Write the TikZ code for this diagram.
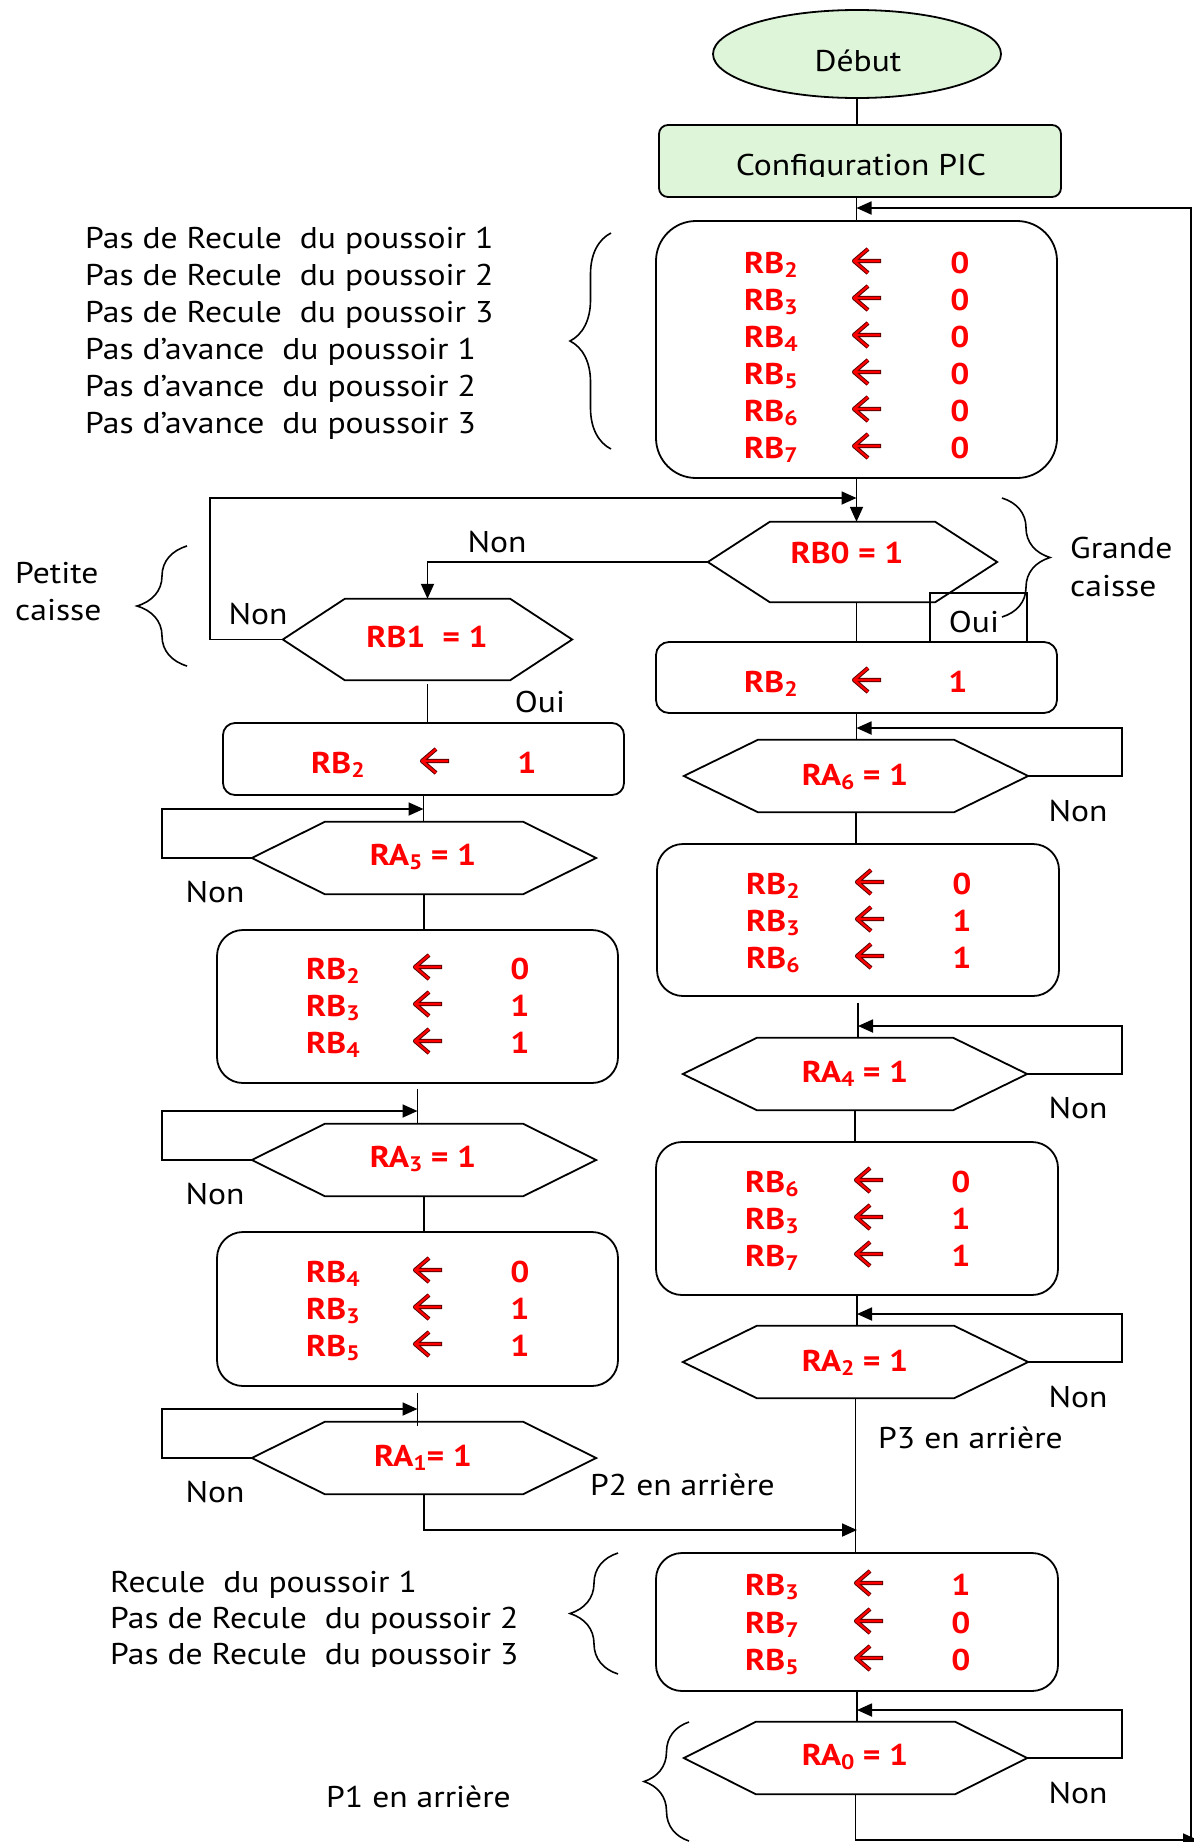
\documentclass[tikz,border=0pt]{standalone}
\usepackage{fontspec}
\setmainfont{PT Sans}[FakeStretch=1.12]
\usetikzlibrary{arrows.meta,decorations.pathreplacing,shapes.geometric}
\definecolor{lgreen}{RGB}{223,245,218}
\definecolor{darkred}{RGB}{90,0,0}
\newcommand\subs[1]{\raisebox{-4pt}{\fontsize{21}{21}\selectfont #1}}
\newcommand\hexdraw[2]{\draw[shapeline] (#1.west) -- ([xshift=#2]#1.north west) -- ([xshift=-#2]#1.north east) -- (#1.east) -- ([xshift=-#2]#1.south east) -- ([xshift=#2]#1.south west) -- cycle;}
% name, xRB, xArrow, xVal, baseline, sub, val
\newcommand\asg[7]{%
  \node[val, anchor=base west] (#1a) at (#2,#5) {RB\subs{#6}};
  \pic at (#3,{#5-12}) {larr};
  \node[val, anchor=base] (#1b) at (#4,#5) {#7};}
\tikzset{
  txt/.style={font=\fontsize{30}{36}\selectfont, inner sep=0pt},
  val/.style={font=\bfseries\fontsize{30}{36}\selectfont, text=red, inner sep=0pt},
  shapeline/.style={line width=1.8pt},
  abox/.style={draw, line width=1.8pt, inner sep=0pt},
  hexa/.style={inner sep=0pt},
  conn/.style={line width=1.8pt},
  arr/.style={line width=1.8pt, -{Triangle[length=15pt,width=13pt]}},
  lbrace/.style={decorate, decoration={brace, amplitude=#1}, line width=1.6pt},
  larr/.pic={
    \draw[line width=4.2pt, darkred, line join=round] (14,-12) -- (0,0) -- (14,12) (0,0) -- (27,0);
    \draw[line width=2.2pt, red, line join=round] (14,-12) -- (0,0) -- (14,12) (0,0) -- (26,0);
  }
}
\begin{document}
\begin{tikzpicture}[x=1pt,y=-1pt]
\useasboundingbox (0,0) rectangle (1194,1842);

% ---------- top ----------
\node[draw, fill=lgreen, ellipse, line width=1.8pt, minimum width=288pt, minimum height=88pt, inner sep=0pt] (start) at (857,54) {};
\node[txt, anchor=base] (debut) at (858,71) {Début};
\node[abox, fill=lgreen, rounded corners=9pt, minimum width=402pt, minimum height=72pt] (config) at (860,161) {};
\begin{scope}
  \clip (660,130) rectangle (1060,176);
  \node[txt, anchor=base] (cfgt) at (861,175) {Configuration PIC};
\end{scope}

% ---------- right column shapes ----------
\node[abox, rounded corners=40pt, minimum width=401pt, minimum height=257pt] (b1) at (856.5,349.5) {};
\node[hexa, minimum width=289pt, minimum height=80pt] (rb0) at (852.5,562) {};
\hexdraw{rb0}{62pt}
\node[abox, rounded corners=13pt, minimum width=401pt, minimum height=71pt] (b2) at (856.5,677.5) {};
\node[hexa, minimum width=344pt, minimum height=72pt] (ra6) at (856,776) {};
\hexdraw{ra6}{74pt}
\node[abox, rounded corners=26pt, minimum width=402pt, minimum height=152pt] (b3) at (858,920) {};
\node[hexa, minimum width=344pt, minimum height=72pt] (ra4) at (855,1074) {};
\hexdraw{ra4}{74pt}
\node[abox, rounded corners=26pt, minimum width=402pt, minimum height=153pt] (b4) at (857,1218.5) {};
\node[hexa, minimum width=345pt, minimum height=72pt] (ra2) at (855.5,1362) {};
\hexdraw{ra2}{74pt}
\node[abox, rounded corners=26pt, minimum width=402pt, minimum height=138pt] (b5) at (857,1622) {};
\node[hexa, minimum width=343pt, minimum height=72pt] (ra0) at (855.5,1758) {};
\hexdraw{ra0}{72pt}

% ---------- left column shapes ----------
\node[hexa, minimum width=289pt, minimum height=81pt] (rb1) at (427.5,639.5) {};
\hexdraw{rb1}{62pt}
\node[abox, rounded corners=12pt, minimum width=401pt, minimum height=72pt] (l1) at (423.5,759) {};
\node[hexa, minimum width=344pt, minimum height=72pt] (ra5) at (424,858) {};
\hexdraw{ra5}{73pt}
\node[abox, rounded corners=26pt, minimum width=401pt, minimum height=153pt] (l2) at (417.5,1006.5) {};
\node[hexa, minimum width=344pt, minimum height=72pt] (ra3) at (424,1160) {};
\hexdraw{ra3}{73pt}
\node[abox, rounded corners=26pt, minimum width=401pt, minimum height=154pt] (l3) at (417.5,1309) {};
\node[hexa, minimum width=344pt, minimum height=72pt] (ra1) at (424,1458) {};
\hexdraw{ra1}{73pt}

% ---------- connectors ----------
\draw[conn] (start.south) -- (start.south |- config.north);
\draw[conn] (b1.north) -- (b1.north |- config.south);
\coordinate (fbtop) at (1191,208);
\coordinate (fbbot) at (1191,1840);
\coordinate (fbend) at (1198,1840);
\draw[arr] (ra0.south) |- (fbend);
\draw[arr] (fbbot) -- (fbtop) -- (b1.north |- fbtop);
\draw[arr] (b1.south) -- (b1.south |- rb0.north);
\coordinate (loopA) at (210,498);
\draw[arr] (rb1.west) -| (loopA) -- (b1.south |- loopA);
\draw[arr] (rb0.west) -| (rb1.north);
\draw[conn] (b2.north |- rb0.south) -- (b2.north);
\coordinate (ouiL) at (930,593);
\coordinate (ouiR) at (1027,593);
\draw[conn] (ouiL |- b2.north) -- (ouiL) -- (ouiR) -- (ouiR |- b2.north);
\draw[conn] (b2.south) -- (b2.south |- ra6.north);
\coordinate (lpA6) at (1122,728);
\draw[arr] (ra6.east) -| (lpA6) -- (b2.south |- lpA6);
\draw[conn] (ra6.south) -- (ra6.south |- b3.north);
\draw[conn] ([yshift=-6pt]b3.south) -- (b3.south |- ra4.north);
\coordinate (lpA4) at (1122,1026);
\draw[arr] (ra4.east) -| (lpA4) -- (b3.south |- lpA4);
\draw[conn] (ra4.south) -- (ra4.south |- b4.north);
\draw[conn] (b4.south) -- (b4.south |- ra2.north);
\coordinate (lpA2) at (1122,1314);
\draw[arr] (ra2.east) -| (lpA2) -- (b4.south |- lpA2);
\draw[conn] (ra2.south) -- (ra2.south |- b5.north);
\coordinate (p2c) at (423,1530);
\draw[arr] (ra1.south) |- (b5.north |- p2c);
\draw[conn] (b5.south) -- (b5.south |- ra0.north);
\coordinate (lpA0) at (1122,1710);
\draw[arr] (ra0.east) -| (lpA0) -- (b5.south |- lpA0);

\draw[conn] ([yshift=-4pt]rb1.south) -- (rb1.south |- l1.north);
\draw[conn] (l1.south) -- (l1.south |- ra5.north);
\coordinate (lpB5) at (162,809);
\draw[arr] (ra5.west) -| (lpB5) -- (l1.south |- lpB5);
\draw[conn] (ra5.south) -- (ra5.south |- l2.north);
\draw[conn] ([yshift=-5pt]l2.south) -- (l2.south |- ra3.north);
\coordinate (lpB3) at (162,1111);
\draw[arr] (ra3.west) -| (lpB3) -- (l2.south |- lpB3);
\draw[conn] (ra3.south) -- (ra3.south |- l3.north);
\draw[conn] ([yshift=-6pt]l3.south) -- ([yshift=-4pt]l3.south |- ra1.north);
\coordinate (lpB1) at (162,1409);
\draw[arr] (ra1.west) -| (lpB1) -- (l3.south |- lpB1);

% ---------- braces ----------
\draw[lbrace=41pt] (611,449) -- (611,233);
\draw[lbrace=48pt] (1002,498) -- (1002,617);
\draw[lbrace=50pt] (187,666) -- (187,546);
\draw[lbrace=48pt] (618,1674) -- (618,1553);
\draw[lbrace=45pt] (689,1841) -- (689,1722);

% ---------- box contents ----------
\asg{bA}{744}{854}{960}{273}{2}{0}
\asg{bB}{744}{854}{960}{310}{3}{0}
\asg{bC}{744}{854}{960}{347}{4}{0}
\asg{bD}{744}{854}{960}{384}{5}{0}
\asg{bE}{744}{854}{960}{421}{6}{0}
\asg{bF}{744}{854}{960}{458}{7}{0}

\asg{cA}{744}{854}{958}{692}{2}{1}

\asg{dA}{746}{857}{962}{894}{2}{0}
\asg{dB}{746}{857}{962}{931}{3}{1}
\asg{dC}{746}{857}{962}{968}{6}{1}

\asg{eA}{745}{856}{961}{1192}{6}{0}
\asg{eB}{745}{856}{961}{1229}{3}{1}
\asg{eC}{745}{856}{961}{1266}{7}{1}

\asg{fA}{745}{856}{961}{1595}{3}{1}
\asg{fB}{745}{856}{961}{1633}{7}{0}
\asg{fC}{745}{856}{961}{1670}{5}{0}

\asg{gA}{311}{422}{527}{773}{2}{1}

\asg{hA}{306}{415}{520}{979}{2}{0}
\asg{hB}{306}{415}{520}{1016}{3}{1}
\asg{hC}{306}{415}{520}{1053}{4}{1}

\asg{iA}{306}{415}{520}{1282}{4}{0}
\asg{iB}{306}{415}{520}{1319}{3}{1}
\asg{iC}{306}{415}{520}{1356}{5}{1}

% ---------- hexagon texts ----------
\node[val, anchor=base] (trb0) at (847,563) {RB0 = 1};
\node[val, anchor=base] (trb1) at (427,647) {RB1\ \ = 1};
\node[val, anchor=base] (tra6) at (855,785) {RA\subs{6} = 1};
\node[val, anchor=base] (tra4) at (855,1082) {RA\subs{4} = 1};
\node[val, anchor=base] (tra2) at (855,1371) {RA\subs{2} = 1};
\node[val, anchor=base] (tra0) at (855,1765) {RA\subs{0} = 1};
\node[val, anchor=base] (tra5) at (423,865) {RA\subs{5} = 1};
\node[val, anchor=base] (tra3) at (423,1167) {RA\subs{3} = 1};
\node[val, anchor=base] (tra1) at (423,1466) {RA\subs{1}= 1};

% ---------- labels ----------
\node[txt, anchor=base] (nonA) at (497,552) {Non};
\node[txt, anchor=base] (nonB) at (258,624) {Non};
\node[txt, anchor=base] (ouiA) at (540,712) {Oui};
\node[txt, anchor=base] (ouiB) at (974,632) {Oui};
\node[txt, anchor=base west] (grA) at (1070,558) {Grande};
\node[txt, anchor=base west] (grB) at (1070,596) {caisse};
\node[txt, anchor=base west] (ptA) at (15,583) {Petite};
\node[txt, anchor=base west] (ptB) at (15,620) {caisse};
\node[txt, anchor=base] (non6) at (1078,821) {Non};
\node[txt, anchor=base] (non4) at (1078,1118) {Non};
\node[txt, anchor=base] (non2) at (1078,1407) {Non};
\node[txt, anchor=base] (non0) at (1078,1803) {Non};
\node[txt, anchor=base] (non5) at (215,902) {Non};
\node[txt, anchor=base] (non3) at (215,1204) {Non};
\node[txt, anchor=base] (non1) at (215,1502) {Non};
\node[txt, anchor=base west] (p3) at (878,1448) {P3 en arrière};
\node[txt, anchor=base west] (p2) at (590,1495) {P2 en arrière};
\node[txt, anchor=base west] (p1) at (326,1807) {P1 en arrière};

\node[txt, anchor=base west] (tA) at (85,248) {Pas de Recule\ \ du poussoir 1};
\node[txt, anchor=base west] (tB) at (85,285) {Pas de Recule\ \ du poussoir 2};
\node[txt, anchor=base west] (tC) at (85,322) {Pas de Recule\ \ du poussoir 3};
\node[txt, anchor=base west] (tD) at (85,359) {Pas d’avance\ \ du poussoir 1};
\node[txt, anchor=base west] (tE) at (85,396) {Pas d’avance\ \ du poussoir 2};
\node[txt, anchor=base west] (tF) at (85,433) {Pas d’avance\ \ du poussoir 3};

\node[txt, anchor=base west] (uA) at (110,1592) {Recule\ \ du poussoir 1};
\node[txt, anchor=base west] (uB) at (110,1628) {Pas de Recule\ \ du poussoir 2};
\begin{scope}
  \clip (100,1630) rectangle (580,1666);
  \node[txt, anchor=base west] (uC) at (110,1664) {Pas de Recule\ \ du poussoir 3};
\end{scope}
\end{tikzpicture}
\end{document}
